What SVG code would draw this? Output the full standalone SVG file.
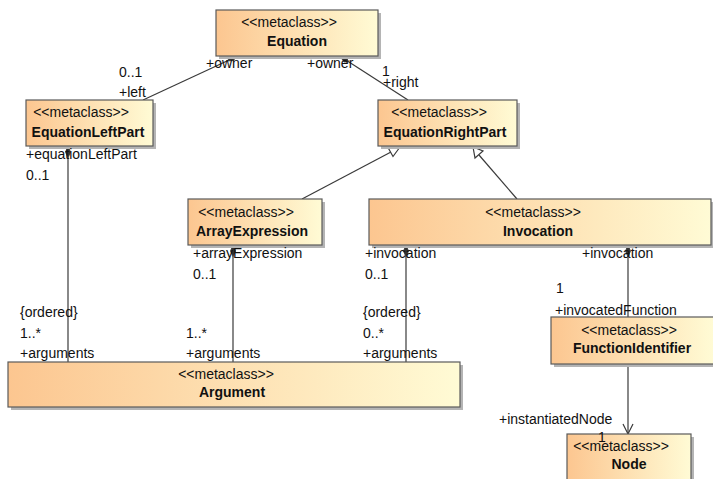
<svg xmlns="http://www.w3.org/2000/svg" width="713" height="479" viewBox="0 0 713 479">
<style>
.box{fill:url(#g);stroke:#5a5a5a;stroke-width:1.2}
.sh{fill:#b4b4b4}
.st{font-family:"Liberation Sans",Arial,sans-serif;font-size:14px;fill:#111;text-anchor:middle}
.nm{font-family:"Liberation Sans",Arial,sans-serif;font-size:14px;font-weight:bold;fill:#111;text-anchor:middle}
.lb{font-family:"Liberation Sans",Arial,sans-serif;font-size:14px;fill:#111}
.ln{stroke:#3a3a3a;stroke-width:1.2;fill:none}
.dia{fill:#333;stroke:#333;stroke-width:0.8}
.tri{fill:#fff;stroke:#3a3a3a;stroke-width:1.2}
</style>
<defs>
<linearGradient id="g" x1="0" y1="0" x2="1" y2="0">
<stop offset="0" stop-color="#FCC690"/>
<stop offset="1" stop-color="#FFFBD5"/>
</linearGradient>
</defs>
<rect width="713" height="479" fill="#fff"/>

<g id="connectors">
<!-- Equation left composition -->
<line class="ln" x1="143" y1="100" x2="227" y2="61"/>
<polygon class="dia" points="238,56 231,56.5 227,61 233,60.5"/>
<!-- Equation right composition -->
<line class="ln" x1="408" y1="100" x2="349" y2="62"/>
<polygon class="dia" points="340,56 344,62 349,62 346,57"/>
<!-- generalizations -->
<line class="ln" x1="302" y1="199" x2="391" y2="152"/>
<polygon class="tri" points="400,147 388,147.5 393,156.5"/>
<line class="ln" x1="517" y1="199" x2="479" y2="155"/>
<polygon class="tri" points="473,147 475,158 483,151"/>
<!-- arguments -->
<line class="ln" x1="68" y1="158" x2="68" y2="362"/>
<polygon class="dia" points="68,146 70.5,152 68,158 65.5,152"/>
<line class="ln" x1="233" y1="257" x2="233" y2="362"/>
<polygon class="dia" points="233,245 235.5,251 233,257 230.5,251"/>
<line class="ln" x1="406" y1="257" x2="406" y2="362"/>
<polygon class="dia" points="406,245 408.5,251 406,257 403.5,251"/>
<!-- invocation to function -->
<line class="ln" x1="628" y1="257" x2="628" y2="317"/>
<polygon class="dia" points="628,245 630.5,251 628,257 625.5,251"/>
<!-- function to node -->
<line class="ln" x1="628" y1="364" x2="628" y2="434"/>
<polyline class="ln" points="623,424 628,434 633,424"/>
</g>

<g id="Equation">
<rect class="sh" x="219" y="13" width="162" height="46"/>
<rect class="box" x="216" y="10" width="162" height="46"/>
<text class="st" x="289" y="27">&lt;&lt;metaclass&gt;&gt;</text>
<text class="nm" x="297" y="46">Equation</text>
</g>

<g id="EquationLeftPart">
<rect class="sh" x="29" y="103" width="127" height="46"/>
<rect class="box" x="26" y="100" width="127" height="46"/>
<text class="st" x="81" y="117">&lt;&lt;metaclass&gt;&gt;</text>
<text class="nm" x="88" y="137">EquationLeftPart</text>
</g>

<g id="EquationRightPart">
<rect class="sh" x="381" y="103" width="139" height="46"/>
<rect class="box" x="378" y="100" width="139" height="46"/>
<text class="st" x="439" y="117">&lt;&lt;metaclass&gt;&gt;</text>
<text class="nm" x="445" y="137">EquationRightPart</text>
</g>

<g id="ArrayExpression">
<rect class="sh" x="191" y="202" width="134" height="46"/>
<rect class="box" x="188" y="199" width="134" height="46"/>
<text class="st" x="246" y="217">&lt;&lt;metaclass&gt;&gt;</text>
<text class="nm" x="252" y="236">ArrayExpression</text>
</g>

<g id="Invocation">
<rect class="sh" x="372" y="202" width="343" height="46"/>
<rect class="box" x="369" y="199" width="342" height="46"/>
<text class="st" x="533" y="217">&lt;&lt;metaclass&gt;&gt;</text>
<text class="nm" x="538" y="236">Invocation</text>
</g>

<g id="FunctionIdentifier">
<rect class="sh" x="554" y="320" width="162" height="47"/>
<rect class="box" x="551" y="317" width="163" height="47"/>
<text class="st" x="629" y="335">&lt;&lt;metaclass&gt;&gt;</text>
<text class="nm" x="632" y="353">FunctionIdentifier</text>
</g>

<g id="Node">
<rect class="sh" x="570" y="437" width="124" height="46"/>
<rect class="box" x="567" y="434" width="124" height="50"/>
<text class="st" x="621" y="451">&lt;&lt;metaclass&gt;&gt;</text>
<text class="nm" x="629" y="469">Node</text>
</g>

<g id="Argument">
<rect class="sh" x="11" y="365" width="452" height="45"/>
<rect class="box" x="8" y="362" width="452" height="45"/>
<text class="st" x="226" y="379">&lt;&lt;metaclass&gt;&gt;</text>
<text class="nm" x="232" y="397">Argument</text>
</g>

<g id="labels">
<text class="lb" x="119" y="77">0..1</text>
<text class="lb" x="119" y="97">+left</text>
<text class="lb" x="206" y="68">+owner</text>
<text class="lb" x="307" y="68">+owner</text>
<text class="lb" x="382" y="76">1</text>
<text class="lb" x="383" y="87">+right</text>
<text class="lb" x="26" y="159">+equationLeftPart</text>
<text class="lb" x="26" y="180">0..1</text>
<text class="lb" x="193" y="258">+arrayExpression</text>
<text class="lb" x="193" y="279">0..1</text>
<text class="lb" x="365" y="258">+invocation</text>
<text class="lb" x="365" y="279">0..1</text>
<text class="lb" x="582" y="258">+invocation</text>
<text class="lb" x="556" y="293">1</text>
<text class="lb" x="555" y="315">+invocatedFunction</text>
<text class="lb" x="20" y="317">{ordered}</text>
<text class="lb" x="20" y="338">1..*</text>
<text class="lb" x="20" y="358">+arguments</text>
<text class="lb" x="186" y="338">1..*</text>
<text class="lb" x="186" y="358">+arguments</text>
<text class="lb" x="363" y="317">{ordered}</text>
<text class="lb" x="363" y="338">0..*</text>
<text class="lb" x="363" y="358">+arguments</text>
<text class="lb" x="499" y="424">+instantiatedNode</text>
<text class="lb" x="598" y="442">1</text>
</g>
</svg>
